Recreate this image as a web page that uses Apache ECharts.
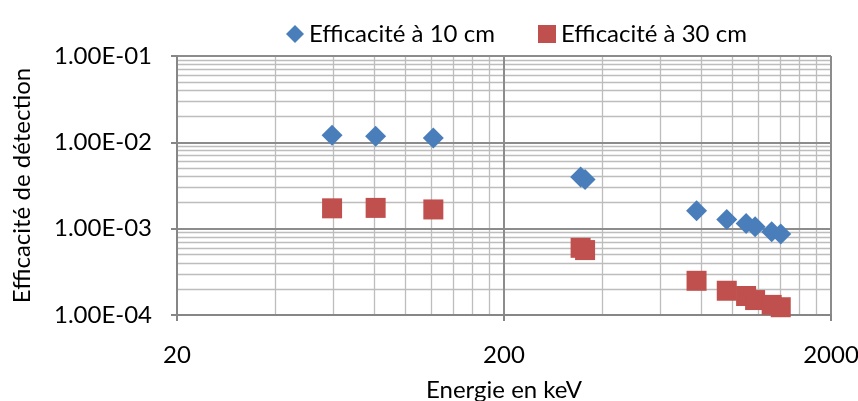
<!DOCTYPE html>
<html>
<head>
<meta charset="utf-8">
<script src="https://cdn.jsdelivr.net/npm/echarts@6/dist/echarts.min.js"></script>
<style>html,body{margin:0;padding:0;background:#fff}#c{width:858px;height:401px}</style>
</head>
<body>
<div id="c"></div>
<script>
// Energies (keV) and efficiencies
const energy10 = [59.6, 81, 121.6, 343, 354, 776, 960, 1100, 1172, 1317, 1404];
const eff10 = [1.21e-2, 1.18e-2, 1.125e-2, 3.98e-3, 3.7e-3, 1.61e-3, 1.28e-3, 1.15e-3, 1.05e-3, 9.2e-4, 8.65e-4];
const energy30 = [59.6, 81, 121.6, 343, 354, 776, 960, 1100, 1172, 1317, 1404];
const eff30 = [1.72e-3, 1.74e-3, 1.67e-3, 6.0e-4, 5.65e-4, 2.49e-4, 1.91e-4, 1.66e-4, 1.49e-4, 1.31e-4, 1.23e-4];

const seriesNames = ['Efficacité à 10 cm', 'Efficacité à 30 cm'];
const xMajorTicks = [20, 200, 2000];
const xMinorTicks = [40, 60, 80, 100, 120, 140, 160, 180, 400, 600, 800, 1000, 1200, 1400, 1600, 1800];
const yMajorTicks = [1e-4, 1e-3, 1e-2, 1e-1];
const yMinorTicks = [2e-4, 3e-4, 4e-4, 5e-4, 6e-4, 7e-4, 8e-4, 9e-4,
                     2e-3, 3e-3, 4e-3, 5e-3, 6e-3, 7e-3, 8e-3, 9e-3,
                     2e-2, 3e-2, 4e-2, 5e-2, 6e-2, 7e-2, 8e-2, 9e-2];
const xTitle = 'Energie en keV';
const yTitle = 'Efficacité de détection';

function sciLabel(v) {
  const s = Number(v).toExponential(2).toUpperCase();
  const m = s.match(/^([\d.]+)E([+-])(\d+)$/);
  if (!m) return s;
  return m[1] + 'E' + m[2] + m[3].padStart(2, '0');
}

const FONT = 'Lato';
const FS = 24;
const legendText = {fontFamily: FONT, fontSize: FS, color: '#000'};
const chart = echarts.init(document.getElementById('c'), null, {renderer: 'canvas'});
chart.setOption({
  animation: false,
  textStyle: {fontFamily: FONT},
  legend: [
    {
      top: 17, left: 281, itemWidth: 18, itemHeight: 18, itemGap: 0,
      textStyle: legendText,
      data: [{name: seriesNames[0], icon: 'diamond'}]
    },
    {
      top: 17, left: 533, itemWidth: 18, itemHeight: 18, itemGap: 0,
      textStyle: legendText,
      data: [{name: seriesNames[1], icon: 'rect'}]
    }
  ],
  grid: {left: 177, right: 27, top: 56, bottom: 86, containLabel: false, outerBoundsMode: 'none'},
  xAxis: [
    {
      type: 'log', logBase: 10, min: 20, max: 2000, z: 1,
      name: xTitle, nameLocation: 'middle', nameGap: 63,
      nameTextStyle: {fontFamily: FONT, fontSize: FS, color: '#000'},
      axisLine: {show: true, lineStyle: {color: '#868686', width: 2}},
      axisTick: {show: true, inside: false, length: 6, customValues: xMajorTicks, lineStyle: {color: '#868686', width: 2}},
      axisLabel: {show: true, customValues: xMajorTicks, margin: 28, fontFamily: FONT, fontSize: FS, color: '#000', formatter: v => String(Math.round(v))},
      splitLine: {show: true, lineStyle: {color: '#8c8c8c', width: 2}},
      minorTick: {show: false}, minorSplitLine: {show: false}
    },
    {
      type: 'log', logBase: 10, min: 20, max: 2000, z: 0, position: 'bottom',
      axisLine: {show: false},
      axisTick: {show: false, customValues: xMinorTicks},
      axisLabel: {show: false, customValues: xMinorTicks},
      splitLine: {show: true, lineStyle: {color: '#bdbdbd', width: 1.3}}
    }
  ],
  yAxis: [
    {
      type: 'log', logBase: 10, min: 1e-4, max: 1e-1, z: 1,
      name: yTitle, nameLocation: 'middle', nameGap: 143, nameRotate: 90,
      nameTextStyle: {fontFamily: FONT, fontSize: FS, color: '#000'},
      axisLine: {show: true, lineStyle: {color: '#868686', width: 2}},
      axisTick: {show: true, inside: false, length: 6, customValues: yMajorTicks, lineStyle: {color: '#868686', width: 2}},
      axisLabel: {show: true, customValues: yMajorTicks, margin: 25, fontFamily: FONT, fontSize: FS, color: '#000', formatter: sciLabel},
      splitLine: {show: true, lineStyle: {color: '#8c8c8c', width: 2}}
    },
    {
      type: 'log', logBase: 10, min: 1e-4, max: 1e-1, z: 0, position: 'left',
      axisLine: {show: false},
      axisTick: {show: false, customValues: yMinorTicks},
      axisLabel: {show: false, customValues: yMinorTicks},
      splitLine: {show: true, lineStyle: {color: '#bdbdbd', width: 1.3}}
    }
  ],
  series: [
    {
      name: seriesNames[0], type: 'scatter', xAxisIndex: 0, yAxisIndex: 0,
      symbol: 'diamond', symbolSize: 21,
      itemStyle: {color: '#4A7EBB', opacity: 1},
      data: energy10.map((e, i) => [e, eff10[i]]),
      z: 3
    },
    {
      name: seriesNames[1], type: 'scatter', xAxisIndex: 0, yAxisIndex: 0,
      symbol: 'rect', symbolSize: 20,
      itemStyle: {color: '#C0504D', opacity: 1, borderRadius: 2},
      data: energy30.map((e, i) => [e, eff30[i]]),
      z: 4
    }
  ]
});
</script>
</body>
</html>
